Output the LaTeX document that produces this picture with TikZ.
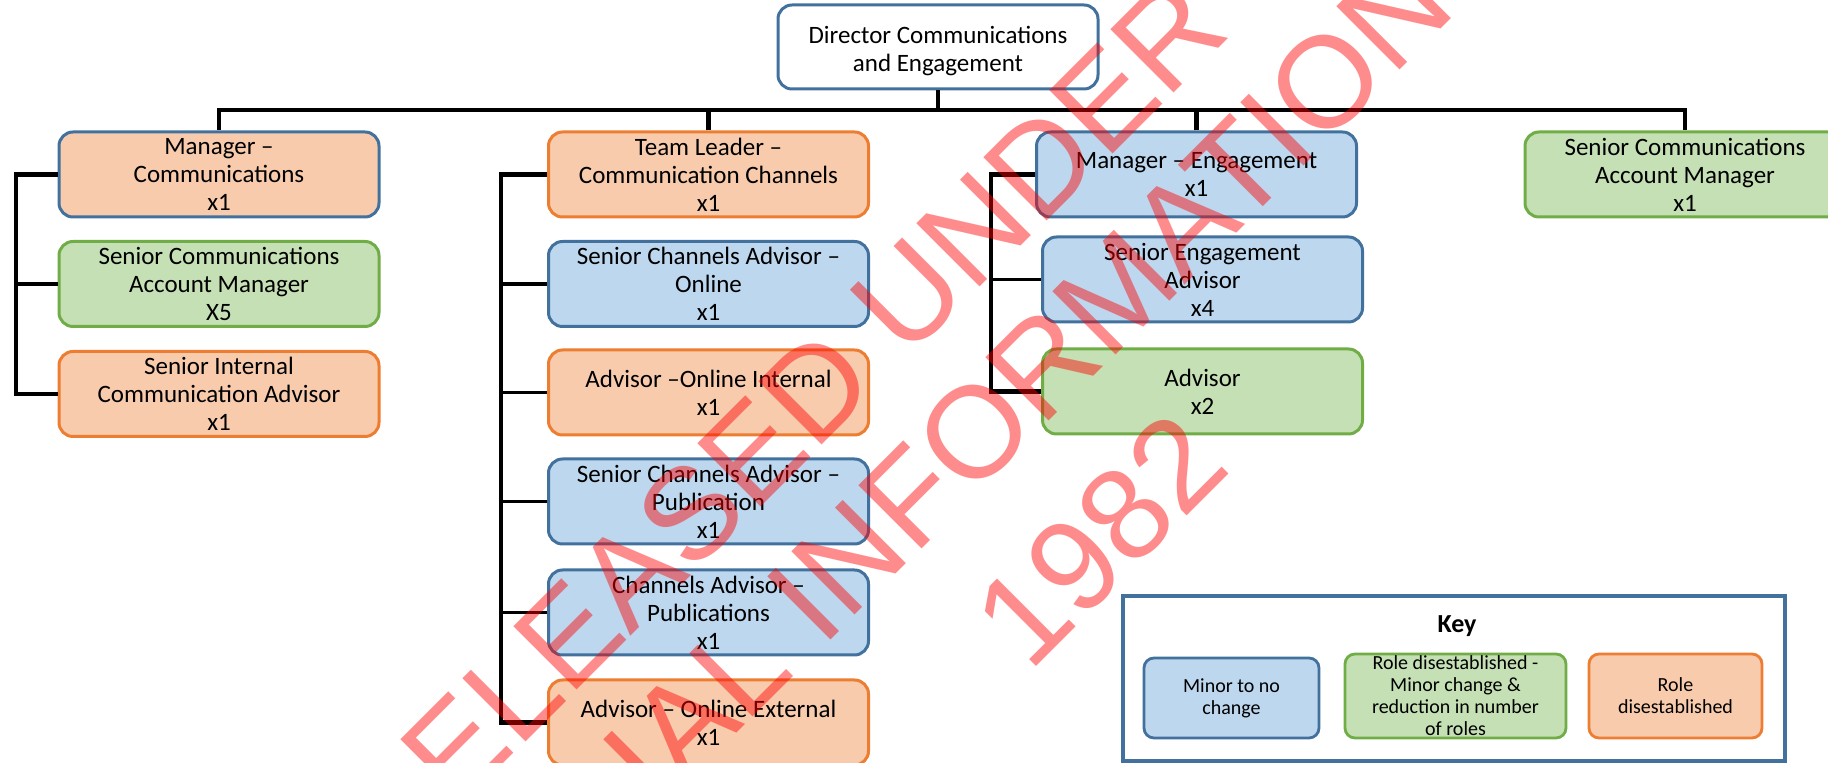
\documentclass[tikz,border=0pt]{standalone}
\usepackage{fontspec}
\setmainfont{Carlito}
\newfontfamily\wmfont{Liberation Sans}
\definecolor{bfill}{HTML}{BDD7EE}
\definecolor{bline}{HTML}{41719C}
\definecolor{ofill}{HTML}{F8CBAD}
\definecolor{oline}{HTML}{ED7D31}
\definecolor{gfill}{HTML}{C5E0B4}
\definecolor{gline}{HTML}{70AD47}
\newcommand{\boxfont}{\fontsize{12.5}{14}\selectfont}
\newcommand{\keyfont}{\fontsize{10}{11}\selectfont}
\tikzset{
  role/.style={rounded corners=7pt, line width=1.5pt, minimum width=160pt,
    minimum height=42.5pt, align=center, inner sep=0pt, font=\boxfont},
  bluerole/.style={role, draw=bline, fill=bfill},
  orangerole/.style={role, draw=oline, fill=ofill},
  greenrole/.style={role, draw=gline, fill=gfill},
  keyitem/.style={rounded corners=5pt, line width=1.4pt, minimum height=40pt,
    align=center, inner sep=0pt, font=\keyfont},
  busline/.style={line width=2.4pt},
  trunkline/.style={line width=2.3pt},
  stubline/.style={line width=1.7pt},
  wm/.style={font=\wmfont\fontsize{65}{65}\selectfont, text=red,
    text opacity=0.45, rotate=45, inner sep=0pt},
}
\begin{document}
\begin{tikzpicture}[x=0.5pt, y=-0.5pt]
\useasboundingbox (0,0) rectangle (1828,763);
\clip (0,0) rectangle (1828,763);

% top of the chart (text sits a little low in its box)
\node[rounded corners=7pt, line width=1.5pt, draw=bline, fill=white,
  minimum width=160pt, minimum height=42pt, inner sep=0pt, font=\boxfont]
  (dir) at (938,47)
  {\raisebox{0pt}[\dimexpr\height+5pt\relax][\depth]{\begin{tabular}{@{}c@{}}Director Communications\\and Engagement\end{tabular}}};

% communications team
\node[role, draw=bline, fill=ofill] (mc) at (219,174.5) {Manager --\\Communications\\x1};
\node[greenrole] (sca) at (219,284) {Senior Communications\\Account Manager\\X5};
\node[orangerole] (sica) at (219,394) {Senior Internal\\Communication Advisor\\x1};

% channels team
\node[orangerole] (tl) at (708.5,174.5) {Team Leader --\\Communication Channels\\x1};
\node[bluerole] (sco) at (708.5,284) {Senior Channels Advisor --\\Online\\x1};
\node[orangerole] (aoi) at (708.5,392.5) {Advisor --Online Internal\\x1};
\node[bluerole] (scp) at (708.5,501.5) {Senior Channels Advisor --\\Publication\\x1};
\node[bluerole] (cap) at (708.5,612.5) {Channels Advisor --\\Publications\\x1};
\node[orangerole] (aoe) at (708.5,722.5) {Advisor -- Online External\\x1};

% engagement team
\node[bluerole] (me) at (1196.5,174.5) {Manager -- Engagement\\x1};
\node[bluerole] (sea) at (1202.5,279.5) {Senior Engagement\\Advisor\\x4};
\node[greenrole] (adv) at (1202.5,391.5) {Advisor\\x2};

% stand-alone role
\node[greenrole] (scam) at (1685,174.5) {Senior Communications\\Account Manager\\x1};

% reporting lines
\coordinate (bus) at (0,110);
\coordinate (t1) at (16,0);
\coordinate (t2) at (501,0);
\coordinate (t3) at (991,0);
\draw[busline] (dir.south) -- (dir.south |- bus);
\draw[busline] (mc.north) -- (mc.north |- bus) -- (scam.north |- bus) -- (scam.north);
\draw[busline] (tl.north) -- (tl.north |- bus);
\draw[busline] (me.north) -- (me.north |- bus);

\draw[trunkline] (mc.west) -- (mc.west -| t1) -- (sica.west -| t1) -- (sica.west);
\draw[stubline] (sca.west) -- (sca.west -| t1);

\draw[trunkline] (tl.west) -- (tl.west -| t2) -- (aoe.west -| t2) -- (aoe.west);
\foreach \n in {sco,aoi,scp,cap}
  \draw[stubline] (\n.west) -- (\n.west -| t2);

\draw[trunkline] (me.west) -- (me.west -| t3) -- (adv.west -| t3) -- (adv.west);
\draw[stubline] (sea.west) -- (sea.west -| t3);

% key
\node[draw=bline, fill=white, line width=1.7pt, minimum width=331pt,
  minimum height=82.5pt, inner sep=0pt] (key) at (1454,678.5) {};
\node[font=\fontsize{13}{15}\selectfont\bfseries] (keytitle) at (1457,626) {Key};
\node[keyitem, draw=bline, fill=bfill, minimum width=87.5pt] (kb) at (1231.5,698)
  {Minor to no\\change};
\node[keyitem, draw=gline, fill=gfill, minimum width=110.5pt, minimum height=42pt]
  (kg) at (1455.5,696)
  {Role disestablished -\\Minor change \&\\reduction in number\\of roles};
\node[keyitem, draw=oline, fill=ofill, minimum width=86.5pt, minimum height=42pt]
  (ko) at (1675.5,696) {Role\\disestablished};

% release stamp
\node[wm] (wm1) at (885,319) {RELEASED UNDER THE};
\node[wm] (wm2) at (994,413) {OFFICIAL INFORMATION ACT};
\node[wm] (wm3) at (1100,540) {1982};
\end{tikzpicture}
\end{document}
